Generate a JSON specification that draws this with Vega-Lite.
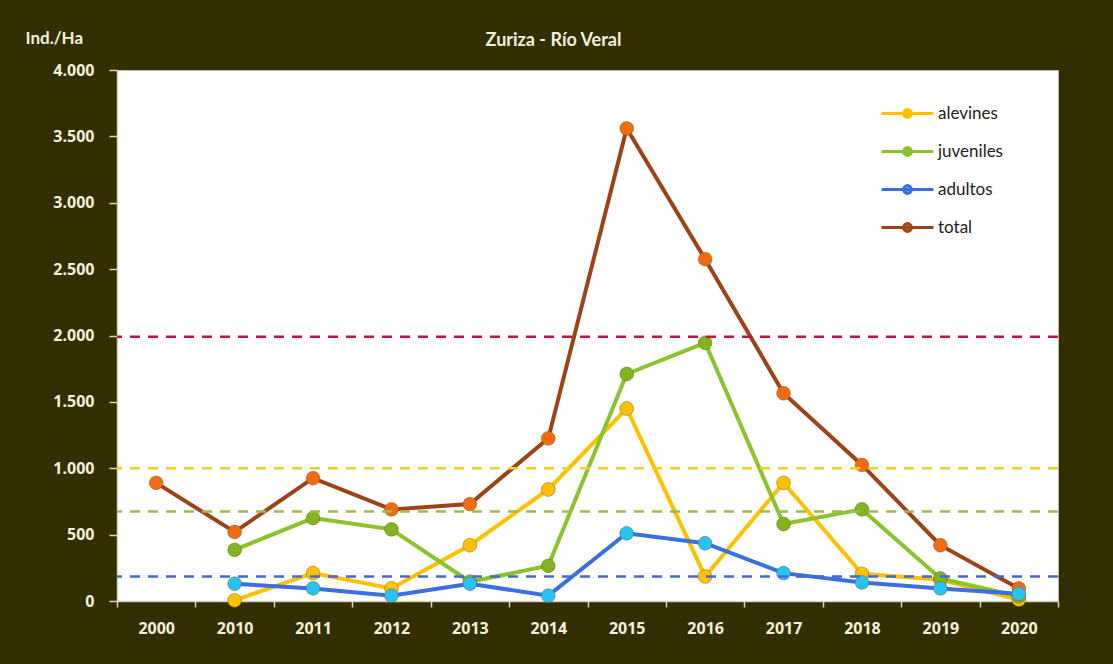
{
  "$schema": "https://vega.github.io/schema/vega-lite/v6.json",
  "width": 941,
  "height": 531,
  "autosize": {"type": "none"},
  "padding": {"left": 117, "top": 70, "right": 55, "bottom": 63},
  "background": "#332e02",
  "config": {
    "locale": {"number": {"decimal": ",", "thousands": ".", "grouping": [3], "currency": ["", " €"]}},
    "view": {"fill": "white", "stroke": "#bdbca8", "strokeWidth": 1}
  },
  "title": {
    "text": "Zuriza - Río Veral",
    "color": "#f4f0dc",
    "font": "Lato",
    "fontSize": 18,
    "fontWeight": "bold",
    "anchor": "middle",
    "dx": -34,
    "offset": -21
  },
  "datasets": {
    "series": [
      {"year": "2000", "serie": "total", "value": 890},
      {"year": "2010", "serie": "total", "value": 520},
      {"year": "2011", "serie": "total", "value": 925},
      {"year": "2012", "serie": "total", "value": 690},
      {"year": "2013", "serie": "total", "value": 730},
      {"year": "2014", "serie": "total", "value": 1225},
      {"year": "2015", "serie": "total", "value": 3560},
      {"year": "2016", "serie": "total", "value": 2575},
      {"year": "2017", "serie": "total", "value": 1565},
      {"year": "2018", "serie": "total", "value": 1025},
      {"year": "2019", "serie": "total", "value": 420},
      {"year": "2020", "serie": "total", "value": 95},
      {"year": "2010", "serie": "alevines", "value": 5},
      {"year": "2011", "serie": "alevines", "value": 210},
      {"year": "2012", "serie": "alevines", "value": 95},
      {"year": "2013", "serie": "alevines", "value": 420},
      {"year": "2014", "serie": "alevines", "value": 840},
      {"year": "2015", "serie": "alevines", "value": 1450},
      {"year": "2016", "serie": "alevines", "value": 185},
      {"year": "2017", "serie": "alevines", "value": 890},
      {"year": "2018", "serie": "alevines", "value": 205},
      {"year": "2019", "serie": "alevines", "value": 160},
      {"year": "2020", "serie": "alevines", "value": 10},
      {"year": "2010", "serie": "juveniles", "value": 385},
      {"year": "2011", "serie": "juveniles", "value": 625},
      {"year": "2012", "serie": "juveniles", "value": 540},
      {"year": "2013", "serie": "juveniles", "value": 145},
      {"year": "2014", "serie": "juveniles", "value": 265},
      {"year": "2015", "serie": "juveniles", "value": 1710},
      {"year": "2016", "serie": "juveniles", "value": 1945},
      {"year": "2017", "serie": "juveniles", "value": 580},
      {"year": "2018", "serie": "juveniles", "value": 690},
      {"year": "2019", "serie": "juveniles", "value": 170},
      {"year": "2020", "serie": "juveniles", "value": 35},
      {"year": "2010", "serie": "adultos", "value": 130},
      {"year": "2011", "serie": "adultos", "value": 95},
      {"year": "2012", "serie": "adultos", "value": 40},
      {"year": "2013", "serie": "adultos", "value": 130},
      {"year": "2014", "serie": "adultos", "value": 40},
      {"year": "2015", "serie": "adultos", "value": 510},
      {"year": "2016", "serie": "adultos", "value": 435},
      {"year": "2017", "serie": "adultos", "value": 210},
      {"year": "2018", "serie": "adultos", "value": 140},
      {"year": "2019", "serie": "adultos", "value": 95},
      {"year": "2020", "serie": "adultos", "value": 55}
    ],
    "refs": [
      {"ref": "total", "value": 1990},
      {"ref": "alevines", "value": 1000},
      {"ref": "juveniles", "value": 675},
      {"ref": "adultos", "value": 185}
    ]
  },
  "layer": [
    {
      "data": {"name": "series"},
      "mark": {"type": "line", "strokeWidth": 4},
      "encoding": {
        "x": {
          "field": "year",
          "type": "ordinal",
          "bandPosition": 0.5,
          "scale": {"type": "band", "paddingInner": 0, "paddingOuter": 0,
            "domain": ["2000","2010","2011","2012","2013","2014","2015","2016","2017","2018","2019","2020"]},
          "axis": {
            "title": null,
            "labelAngle": 0,
            "labelColor": "#f4f0dc",
            "labelFont": "Open Sans",
            "labelFontWeight": "bold",
            "labelFontSize": 16,
            "labelPadding": 13,
            "tickBand": "extent",
            "tickColor": "#d8d4b8",
            "tickSize": 6,
            "tickWidth": 1.5,
            "domainColor": "#d8d4b8",
            "domainWidth": 1.5,
            "grid": false
          }
        },
        "y": {
          "field": "value",
          "type": "quantitative",
          "scale": {"domain": [0, 4000], "nice": false},
          "axis": {
            "values": [0, 500, 1000, 1500, 2000, 2500, 3000, 3500, 4000],
            "format": ",d",
            "title": "Ind./Ha",
            "titleAngle": 0,
            "titleAlign": "left",
            "titleBaseline": "middle",
            "titleX": -92,
            "titleY": -32,
            "titleColor": "#f4f0dc",
            "titleFont": "Lato",
            "titleFontSize": 17,
            "titleFontWeight": "bold",
            "labelColor": "#f4f0dc",
            "labelFont": "Open Sans",
            "labelFontWeight": "bold",
            "labelFontSize": 16,
            "labelPadding": 15,
            "tickColor": "#d8d4b8",
            "tickSize": 8,
            "tickWidth": 1.5,
            "domainColor": "#d8d4b8",
            "domainWidth": 1.5,
            "grid": false
          }
        },
        "color": {
          "field": "serie",
          "type": "nominal",
          "scale": {
            "domain": ["alevines", "juveniles", "adultos", "total"],
            "range": ["#ffc000", "#8cc22a", "#3b6ee0", "#9c4418"]
          },
          "legend": {
            "title": null,
            "orient": "none",
            "legendX": 763,
            "legendY": 16,
            "symbolType": "M-1,0L1,0M0.15,0A0.15,0.15,0,1,1,-0.15,0A0.15,0.15,0,1,1,0.15,0Z",
            "symbolSize": 2704,
            "symbolStrokeWidth": 3,
            "labelFont": "Lato",
            "labelFontSize": 17,
            "labelColor": "#222222",
            "labelOffset": 3,
            "rowPadding": -9,
            "encode": {
              "symbols": {"update": {"fill": {"scale": "fill", "field": "value"}}}
            }
          }
        }
      }
    },
    {
      "data": {"name": "series"},
      "mark": {"type": "point", "filled": true, "shape": "circle", "size": 190, "opacity": 1, "stroke": "#7a5a20", "strokeWidth": 0.8, "strokeOpacity": 0.6},
      "encoding": {
        "x": {"field": "year", "type": "ordinal", "bandPosition": 0.5},
        "y": {"field": "value", "type": "quantitative"},
        "fill": {
          "field": "serie",
          "type": "nominal",
          "scale": {
            "domain": ["alevines", "juveniles", "adultos", "total"],
            "range": ["#ffc000", "#80b420", "#25c4f4", "#f26b10"]
          },
          "legend": null
        }
      }
    },
    {
      "data": {"name": "refs"},
      "mark": {"type": "rule", "strokeWidth": 2.5, "strokeDash": [10, 8]},
      "encoding": {
        "y": {"field": "value", "type": "quantitative"},
        "stroke": {
          "field": "ref",
          "type": "nominal",
          "scale": {
            "domain": ["alevines", "juveniles", "adultos", "total"],
            "range": ["#f0d21e", "#9cba4e", "#4468cc", "#c0143c"]
          },
          "legend": null
        }
      }
    }
  ]
}
